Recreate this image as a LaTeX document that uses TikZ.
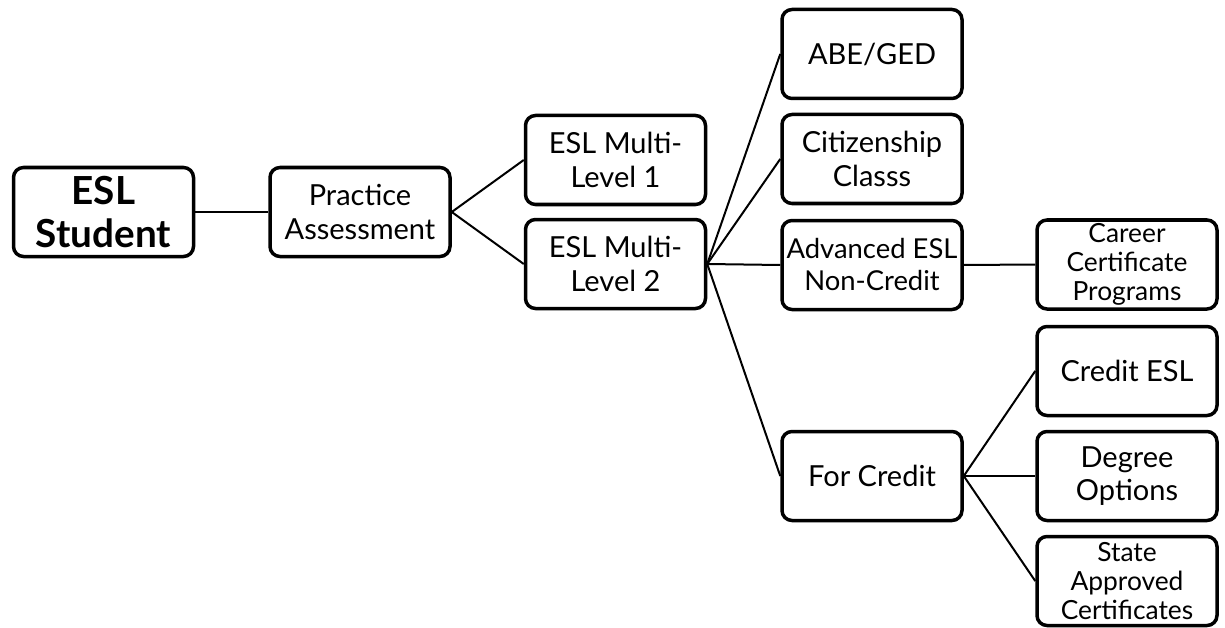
\documentclass[tikz,border=0pt]{standalone}
\usepackage{fontspec}
\setmainfont{Lato}
\begin{document}
\begin{tikzpicture}[
				every node/.style={rectangle, rounded corners=0.2cm, draw, line width=0.07cm, minimum width=3.6cm, minimum height=1.78cm, inner sep=0, align=center, font=\fontsize{16.5}{19}\selectfont},
				small/.style={font=\fontsize{15}{16.6}\selectfont},
				medium/.style={font=\fontsize{15.6}{18.2}\selectfont},
				bold/.style={font=\fontsize{22}{24}\selectfont\bfseries},
				link/.style={line width=0.04cm},
			]
			\useasboundingbox (0,0) rectangle (24.5,-12.56);
			\node[bold] (student) at (2.07,-4.24) {ESL\\Student};
			\node (practice) at (7.2,-4.24) {Practice\\Assessment};
			\node (multi1) at (12.31,-3.2) {ESL Multi-\\Level 1};
			\node (multi2) at (12.31,-5.28) {ESL Multi-\\Level 2};
			\node (abe) at (17.44,-1.08) {ABE/GED};
			\node (citizen) at (17.44,-3.18) {Citizenship\\Classs};
			\node[medium] (advanced) at (17.44,-5.3) {Advanced ESL\\Non-Credit};
			\node (forcredit) at (17.44,-9.52) {For Credit};
			\node[small] (career) at (22.54,-5.29) {Career\\Certificate\\Programs};
			\node (creditesl) at (22.54,-7.42) {Credit ESL};
			\node (degree) at (22.54,-9.52) {Degree\\Options};
			\node[small] (state) at (22.54,-11.62) {State\\Approved\\Certificates};

			\draw[link] (student) -- (practice);
			\draw[link] (practice.east) -- (multi1.west);
			\draw[link] (practice.east) -- (multi2.west);
			\foreach \kid in {abe, citizen, advanced, forcredit}
				\draw[link] (multi2.east) -- (\kid.west);
			\draw[link] (advanced) -- (career);
			\foreach \kid in {creditesl, degree, state}
				\draw[link] (forcredit.east) -- (\kid.west);
			\end{tikzpicture}
\end{document}
